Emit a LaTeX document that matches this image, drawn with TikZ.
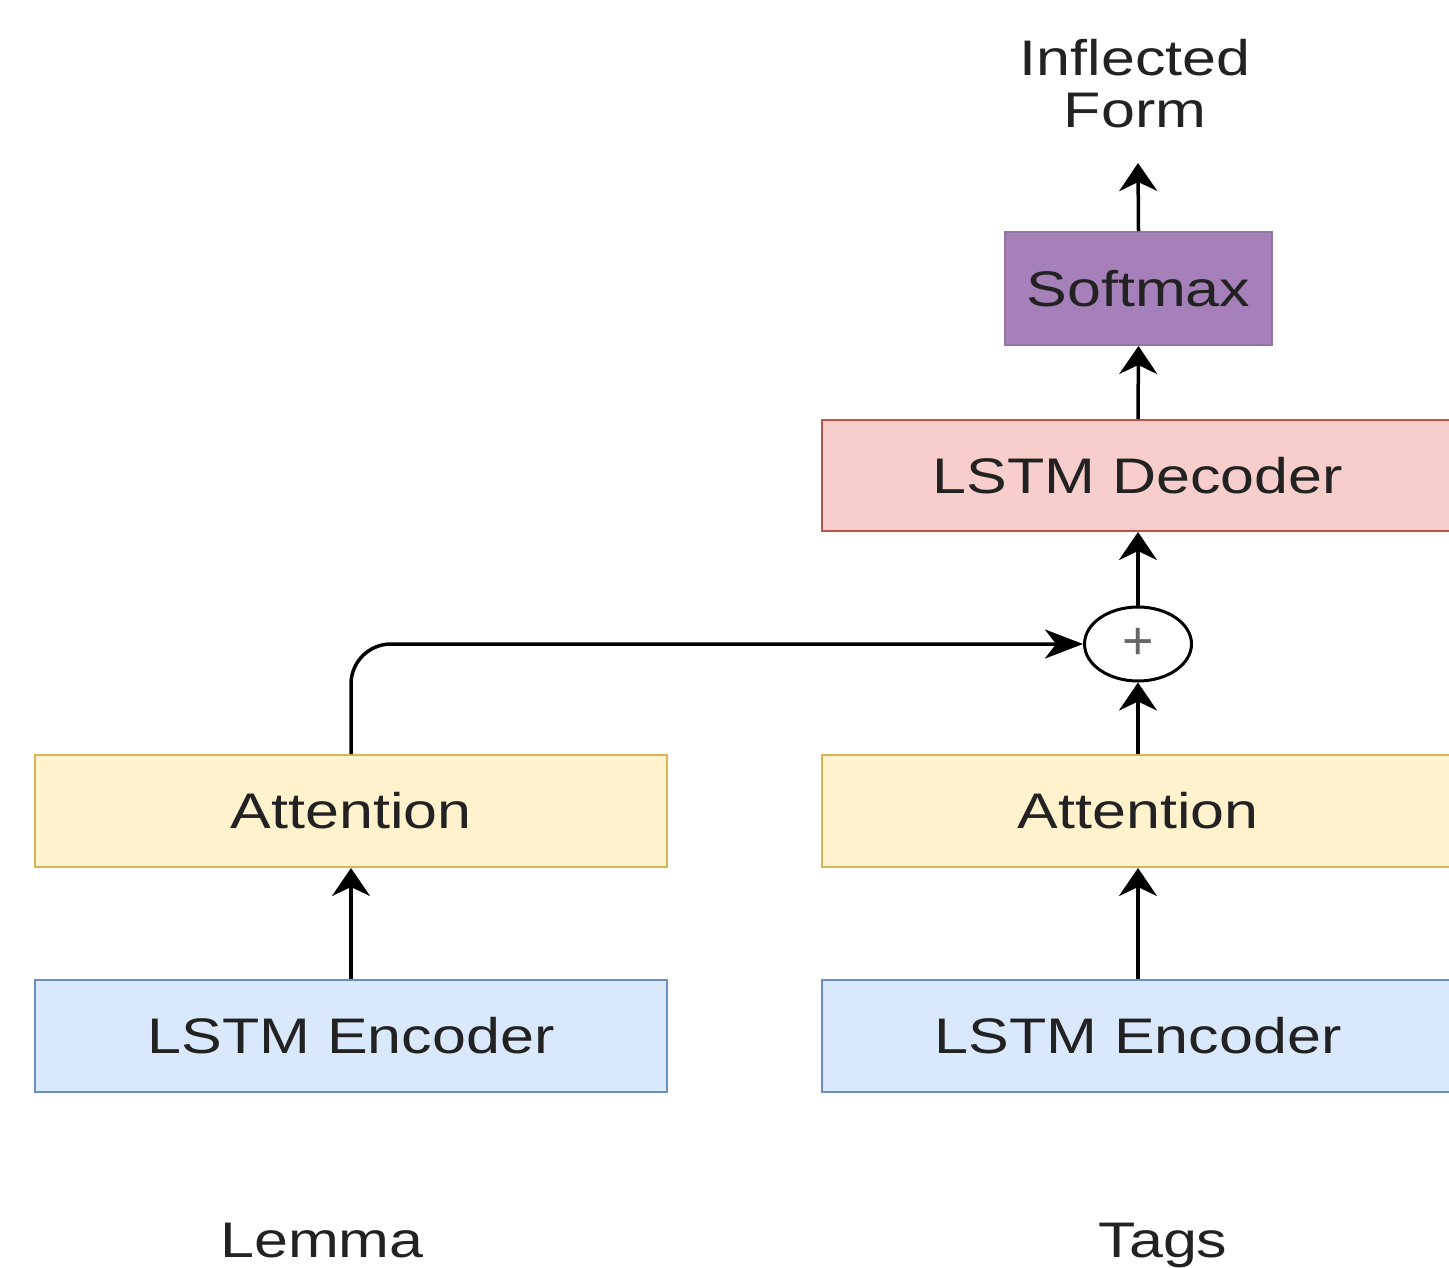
\documentclass[tikz,border=0pt]{standalone}
\usepackage{fontspec}
\usepackage{graphicx}
\setmainfont{Liberation Sans}
\usetikzlibrary{arrows.meta,shapes.geometric}
\definecolor{txt}{HTML}{222222}
\definecolor{yfill}{HTML}{FFF2CC}\definecolor{ydraw}{HTML}{D6B656}
\definecolor{bfill}{HTML}{DAE8FC}\definecolor{bdraw}{HTML}{6C8EBF}
\definecolor{rfill}{HTML}{F8CECC}\definecolor{rdraw}{HTML}{B85450}
\definecolor{pfill}{HTML}{A680B8}\definecolor{pdraw}{HTML}{9673A6}
\newcommand\widetxt[1]{\scalebox{1.22}[1]{#1}}
\begin{document}
\begin{tikzpicture}[x=1pt,y=-1pt,
  box/.style={draw, line width=2pt, minimum width=632pt, minimum height=112pt, inner sep=0pt,
    font=\fontsize{50}{60}\selectfont, text=txt},
  lbl/.style={inner sep=0pt, font=\fontsize{50}{52}\selectfont, text=txt, align=center},
  conn/.style={line width=3.5pt, line cap=butt},
  vtip/.style={conn, -{Stealth[length=28pt,width=38pt,inset=9pt]}},
  htip/.style={conn, -{Stealth[length=38pt,width=29pt,inset=11pt]}}]
\useasboundingbox[fill=white] (0,0) rectangle (1449,1267);
% boxes
\node[box, fill=bfill, draw=bdraw] (lenc) at (351,1036) {\widetxt{LSTM Encoder}};
\node[box, fill=yfill, draw=ydraw] (latt) at (351,811) {\widetxt{Attention}};
\node[box, fill=bfill, draw=bdraw] (renc) at (1138,1036) {\widetxt{LSTM Encoder}};
\node[box, fill=yfill, draw=ydraw] (ratt) at (1138,811) {\widetxt{Attention}};
\node[box, fill=rfill, draw=rdraw, minimum height=111pt] (dec) at (1138,475.5) {\widetxt{LSTM Decoder}};
\node[box, fill=pfill, draw=pdraw, minimum width=267pt, minimum height=113pt] (soft) at (1138.5,288.5) {\widetxt{Softmax}};
\node[ellipse, draw=black, line width=3pt, fill=white, minimum width=107pt, minimum height=74pt, inner sep=0pt,
  font=\fontsize{54}{54}\selectfont, text=black!60] (plus) at (1138,644) {+};
% labels
\node[lbl, anchor=north] (infl) at (1135,39) {\widetxt{Inflected}\\\widetxt{Form}};
\coordinate (tip) at (1138,163);
\node[lbl, anchor=base] (lemma) at (322,1257) {\widetxt{Lemma}};
\node[lbl, anchor=base] (tags) at (1163,1257) {\widetxt{Tags}};
% connectors
\draw[vtip] (lenc.north) -- (latt.south);
\draw[vtip] (renc.north) -- (ratt.south);
\draw[vtip] (ratt.north) -- (plus.south);
\draw[vtip] (plus.north) -- (dec.south);
\draw[vtip] (dec.north) -- (soft.south);
\draw[vtip] (soft.north) -- (tip);
\draw[htip, rounded corners=40pt] (latt.north) |- (plus.west);
\end{tikzpicture}
\end{document}
